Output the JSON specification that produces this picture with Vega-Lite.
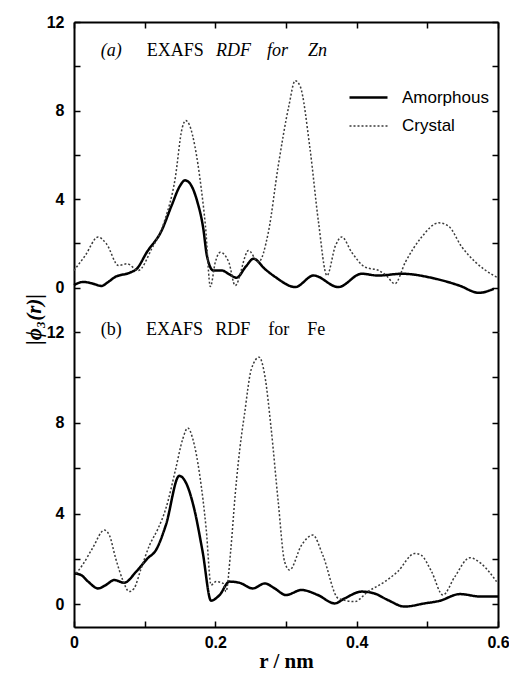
{
  "$schema": "https://vega.github.io/schema/vega-lite/v6.json",
  "padding": {"left": 23, "top": 14, "right": 2, "bottom": 2},
  "spacing": 0,
  "bounds": "flush",
  "config": {
    "view": {"stroke": null},
    "axis": {
      "grid": false,
      "domainColor": "black",
      "domainWidth": 2,
      "tickColor": "black",
      "tickWidth": 1.5,
      "tickSize": -6,
      "labelFont": "Liberation Sans",
      "labelFontSize": 16,
      "labelFontWeight": "bold",
      "labelColor": "black",
      "labelFlush": false,
      "labelOverlap": false,
      "titleColor": "black"
    }
  },
  "datasets": {
    "curves": [
      {"p": "a", "s": "Amorphous", "r": 0, "v": 0.12},
      {"p": "a", "s": "Amorphous", "r": 0.013, "v": 0.26},
      {"p": "a", "s": "Amorphous", "r": 0.025, "v": 0.2},
      {"p": "a", "s": "Amorphous", "r": 0.039, "v": 0.08},
      {"p": "a", "s": "Amorphous", "r": 0.048, "v": 0.25},
      {"p": "a", "s": "Amorphous", "r": 0.058, "v": 0.48},
      {"p": "a", "s": "Amorphous", "r": 0.079, "v": 0.68},
      {"p": "a", "s": "Amorphous", "r": 0.089, "v": 0.86},
      {"p": "a", "s": "Amorphous", "r": 0.103, "v": 1.6},
      {"p": "a", "s": "Amorphous", "r": 0.124, "v": 2.58},
      {"p": "a", "s": "Amorphous", "r": 0.138, "v": 3.7},
      {"p": "a", "s": "Amorphous", "r": 0.15, "v": 4.6},
      {"p": "a", "s": "Amorphous", "r": 0.157, "v": 4.85},
      {"p": "a", "s": "Amorphous", "r": 0.163, "v": 4.75},
      {"p": "a", "s": "Amorphous", "r": 0.174, "v": 3.94},
      {"p": "a", "s": "Amorphous", "r": 0.183, "v": 2.66},
      {"p": "a", "s": "Amorphous", "r": 0.188, "v": 1.46},
      {"p": "a", "s": "Amorphous", "r": 0.197, "v": 0.78},
      {"p": "a", "s": "Amorphous", "r": 0.209, "v": 0.78},
      {"p": "a", "s": "Amorphous", "r": 0.22, "v": 0.6},
      {"p": "a", "s": "Amorphous", "r": 0.23, "v": 0.45},
      {"p": "a", "s": "Amorphous", "r": 0.243, "v": 0.95},
      {"p": "a", "s": "Amorphous", "r": 0.254, "v": 1.31},
      {"p": "a", "s": "Amorphous", "r": 0.27, "v": 0.85},
      {"p": "a", "s": "Amorphous", "r": 0.285, "v": 0.48},
      {"p": "a", "s": "Amorphous", "r": 0.313, "v": 0.03},
      {"p": "a", "s": "Amorphous", "r": 0.339, "v": 0.55},
      {"p": "a", "s": "Amorphous", "r": 0.374, "v": 0.03},
      {"p": "a", "s": "Amorphous", "r": 0.407, "v": 0.63},
      {"p": "a", "s": "Amorphous", "r": 0.43, "v": 0.55},
      {"p": "a", "s": "Amorphous", "r": 0.464, "v": 0.63},
      {"p": "a", "s": "Amorphous", "r": 0.511, "v": 0.41},
      {"p": "a", "s": "Amorphous", "r": 0.545, "v": 0.1},
      {"p": "a", "s": "Amorphous", "r": 0.573, "v": -0.23},
      {"p": "a", "s": "Amorphous", "r": 0.594, "v": -0.05},
      {"p": "a", "s": "Crystal", "r": 0, "v": 0.78},
      {"p": "a", "s": "Crystal", "r": 0.016, "v": 1.46},
      {"p": "a", "s": "Crystal", "r": 0.034, "v": 2.29},
      {"p": "a", "s": "Crystal", "r": 0.046, "v": 1.98},
      {"p": "a", "s": "Crystal", "r": 0.063, "v": 1.0},
      {"p": "a", "s": "Crystal", "r": 0.075, "v": 1.08},
      {"p": "a", "s": "Crystal", "r": 0.091, "v": 0.78},
      {"p": "a", "s": "Crystal", "r": 0.11, "v": 1.76},
      {"p": "a", "s": "Crystal", "r": 0.129, "v": 3.1},
      {"p": "a", "s": "Crystal", "r": 0.143, "v": 4.9},
      {"p": "a", "s": "Crystal", "r": 0.153, "v": 7.2},
      {"p": "a", "s": "Crystal", "r": 0.158, "v": 7.55},
      {"p": "a", "s": "Crystal", "r": 0.164, "v": 7.3},
      {"p": "a", "s": "Crystal", "r": 0.171, "v": 6.4},
      {"p": "a", "s": "Crystal", "r": 0.18, "v": 4.5},
      {"p": "a", "s": "Crystal", "r": 0.186, "v": 2.8},
      {"p": "a", "s": "Crystal", "r": 0.193, "v": 0.05},
      {"p": "a", "s": "Crystal", "r": 0.2, "v": 1.16},
      {"p": "a", "s": "Crystal", "r": 0.207, "v": 1.6},
      {"p": "a", "s": "Crystal", "r": 0.219, "v": 1.16},
      {"p": "a", "s": "Crystal", "r": 0.228, "v": 0.1},
      {"p": "a", "s": "Crystal", "r": 0.247, "v": 1.68},
      {"p": "a", "s": "Crystal", "r": 0.261, "v": 1.16},
      {"p": "a", "s": "Crystal", "r": 0.275, "v": 2.5},
      {"p": "a", "s": "Crystal", "r": 0.289, "v": 5.5},
      {"p": "a", "s": "Crystal", "r": 0.304, "v": 8.2},
      {"p": "a", "s": "Crystal", "r": 0.313, "v": 9.35},
      {"p": "a", "s": "Crystal", "r": 0.32, "v": 9.1},
      {"p": "a", "s": "Crystal", "r": 0.334, "v": 6.27},
      {"p": "a", "s": "Crystal", "r": 0.346, "v": 2.96},
      {"p": "a", "s": "Crystal", "r": 0.358, "v": 0.55},
      {"p": "a", "s": "Crystal", "r": 0.37, "v": 1.9},
      {"p": "a", "s": "Crystal", "r": 0.379, "v": 2.29},
      {"p": "a", "s": "Crystal", "r": 0.393, "v": 1.6},
      {"p": "a", "s": "Crystal", "r": 0.412, "v": 0.93},
      {"p": "a", "s": "Crystal", "r": 0.431, "v": 0.78},
      {"p": "a", "s": "Crystal", "r": 0.442, "v": 0.55},
      {"p": "a", "s": "Crystal", "r": 0.454, "v": 0.18},
      {"p": "a", "s": "Crystal", "r": 0.469, "v": 1.16},
      {"p": "a", "s": "Crystal", "r": 0.492, "v": 2.29},
      {"p": "a", "s": "Crystal", "r": 0.516, "v": 2.93},
      {"p": "a", "s": "Crystal", "r": 0.53, "v": 2.78},
      {"p": "a", "s": "Crystal", "r": 0.549, "v": 1.83},
      {"p": "a", "s": "Crystal", "r": 0.568, "v": 1.16},
      {"p": "a", "s": "Crystal", "r": 0.594, "v": 0.55},
      {"p": "a", "s": "Crystal", "r": 0.6, "v": 0.45},
      {"p": "b", "s": "Amorphous", "r": 0, "v": 1.36},
      {"p": "b", "s": "Amorphous", "r": 0.01, "v": 1.29},
      {"p": "b", "s": "Amorphous", "r": 0.02, "v": 1.0},
      {"p": "b", "s": "Amorphous", "r": 0.034, "v": 0.7},
      {"p": "b", "s": "Amorphous", "r": 0.045, "v": 0.85},
      {"p": "b", "s": "Amorphous", "r": 0.057, "v": 1.07},
      {"p": "b", "s": "Amorphous", "r": 0.071, "v": 0.95},
      {"p": "b", "s": "Amorphous", "r": 0.088, "v": 1.44},
      {"p": "b", "s": "Amorphous", "r": 0.104, "v": 2.02},
      {"p": "b", "s": "Amorphous", "r": 0.116, "v": 2.39},
      {"p": "b", "s": "Amorphous", "r": 0.13, "v": 3.49},
      {"p": "b", "s": "Amorphous", "r": 0.149, "v": 5.66},
      {"p": "b", "s": "Amorphous", "r": 0.159, "v": 5.32},
      {"p": "b", "s": "Amorphous", "r": 0.17, "v": 4.22},
      {"p": "b", "s": "Amorphous", "r": 0.182, "v": 2.32},
      {"p": "b", "s": "Amorphous", "r": 0.194, "v": 0.16},
      {"p": "b", "s": "Amorphous", "r": 0.206, "v": 0.41},
      {"p": "b", "s": "Amorphous", "r": 0.22, "v": 1.0},
      {"p": "b", "s": "Amorphous", "r": 0.234, "v": 0.95},
      {"p": "b", "s": "Amorphous", "r": 0.253, "v": 0.7},
      {"p": "b", "s": "Amorphous", "r": 0.27, "v": 0.92},
      {"p": "b", "s": "Amorphous", "r": 0.284, "v": 0.7},
      {"p": "b", "s": "Amorphous", "r": 0.3, "v": 0.41},
      {"p": "b", "s": "Amorphous", "r": 0.322, "v": 0.63},
      {"p": "b", "s": "Amorphous", "r": 0.345, "v": 0.41},
      {"p": "b", "s": "Amorphous", "r": 0.369, "v": 0.04},
      {"p": "b", "s": "Amorphous", "r": 0.383, "v": 0.26},
      {"p": "b", "s": "Amorphous", "r": 0.407, "v": 0.56},
      {"p": "b", "s": "Amorphous", "r": 0.425, "v": 0.48},
      {"p": "b", "s": "Amorphous", "r": 0.444, "v": 0.19},
      {"p": "b", "s": "Amorphous", "r": 0.468, "v": -0.1},
      {"p": "b", "s": "Amorphous", "r": 0.496, "v": 0.04},
      {"p": "b", "s": "Amorphous", "r": 0.517, "v": 0.15},
      {"p": "b", "s": "Amorphous", "r": 0.546, "v": 0.45},
      {"p": "b", "s": "Amorphous", "r": 0.576, "v": 0.34},
      {"p": "b", "s": "Amorphous", "r": 0.6, "v": 0.34},
      {"p": "b", "s": "Crystal", "r": 0.003, "v": 1.36},
      {"p": "b", "s": "Crystal", "r": 0.012, "v": 1.73},
      {"p": "b", "s": "Crystal", "r": 0.026, "v": 2.46},
      {"p": "b", "s": "Crystal", "r": 0.043, "v": 3.27},
      {"p": "b", "s": "Crystal", "r": 0.05, "v": 3.05},
      {"p": "b", "s": "Crystal", "r": 0.059, "v": 2.02},
      {"p": "b", "s": "Crystal", "r": 0.069, "v": 1.07},
      {"p": "b", "s": "Crystal", "r": 0.078, "v": 0.56},
      {"p": "b", "s": "Crystal", "r": 0.085, "v": 0.7},
      {"p": "b", "s": "Crystal", "r": 0.095, "v": 1.58},
      {"p": "b", "s": "Crystal", "r": 0.107, "v": 2.61},
      {"p": "b", "s": "Crystal", "r": 0.119, "v": 3.34},
      {"p": "b", "s": "Crystal", "r": 0.13, "v": 4.22},
      {"p": "b", "s": "Crystal", "r": 0.144, "v": 5.98},
      {"p": "b", "s": "Crystal", "r": 0.154, "v": 7.3},
      {"p": "b", "s": "Crystal", "r": 0.161, "v": 7.77},
      {"p": "b", "s": "Crystal", "r": 0.168, "v": 7.3},
      {"p": "b", "s": "Crystal", "r": 0.178, "v": 5.68},
      {"p": "b", "s": "Crystal", "r": 0.187, "v": 3.34},
      {"p": "b", "s": "Crystal", "r": 0.194, "v": 0.85},
      {"p": "b", "s": "Crystal", "r": 0.201, "v": 1.0},
      {"p": "b", "s": "Crystal", "r": 0.211, "v": 0.92},
      {"p": "b", "s": "Crystal", "r": 0.215, "v": 0.56},
      {"p": "b", "s": "Crystal", "r": 0.222, "v": 2.46},
      {"p": "b", "s": "Crystal", "r": 0.228, "v": 4.8},
      {"p": "b", "s": "Crystal", "r": 0.237, "v": 7.44},
      {"p": "b", "s": "Crystal", "r": 0.241, "v": 8.32},
      {"p": "b", "s": "Crystal", "r": 0.251, "v": 10.37},
      {"p": "b", "s": "Crystal", "r": 0.262, "v": 10.89},
      {"p": "b", "s": "Crystal", "r": 0.27, "v": 10.08},
      {"p": "b", "s": "Crystal", "r": 0.279, "v": 7.74},
      {"p": "b", "s": "Crystal", "r": 0.289, "v": 4.51},
      {"p": "b", "s": "Crystal", "r": 0.298, "v": 1.88},
      {"p": "b", "s": "Crystal", "r": 0.305, "v": 1.51},
      {"p": "b", "s": "Crystal", "r": 0.322, "v": 2.61},
      {"p": "b", "s": "Crystal", "r": 0.338, "v": 3.05},
      {"p": "b", "s": "Crystal", "r": 0.352, "v": 2.17},
      {"p": "b", "s": "Crystal", "r": 0.374, "v": 0.26},
      {"p": "b", "s": "Crystal", "r": 0.397, "v": 0.12},
      {"p": "b", "s": "Crystal", "r": 0.416, "v": 0.56},
      {"p": "b", "s": "Crystal", "r": 0.44, "v": 1.0},
      {"p": "b", "s": "Crystal", "r": 0.458, "v": 1.44},
      {"p": "b", "s": "Crystal", "r": 0.482, "v": 2.24},
      {"p": "b", "s": "Crystal", "r": 0.491, "v": 2.17},
      {"p": "b", "s": "Crystal", "r": 0.506, "v": 1.44},
      {"p": "b", "s": "Crystal", "r": 0.522, "v": 0.41},
      {"p": "b", "s": "Crystal", "r": 0.539, "v": 1.22},
      {"p": "b", "s": "Crystal", "r": 0.56, "v": 2.05},
      {"p": "b", "s": "Crystal", "r": 0.576, "v": 1.8},
      {"p": "b", "s": "Crystal", "r": 0.598, "v": 1.0}
    ],
    "texts": [
      {"p": "a", "r": 0.038, "v": 10.69, "t": "(a)", "it": 1},
      {"p": "a", "r": 0.103, "v": 10.69, "t": "EXAFS", "it": 0},
      {"p": "a", "r": 0.201, "v": 10.69, "t": "RDF", "it": 1},
      {"p": "a", "r": 0.273, "v": 10.69, "t": "for", "it": 1},
      {"p": "a", "r": 0.331, "v": 10.69, "t": "Zn", "it": 1},
      {"p": "b", "r": 0.038, "v": 12.09, "t": "(b)", "it": 0},
      {"p": "b", "r": 0.102, "v": 12.09, "t": "EXAFS", "it": 0},
      {"p": "b", "r": 0.2, "v": 12.09, "t": "RDF", "it": 0},
      {"p": "b", "r": 0.275, "v": 12.09, "t": "for", "it": 0},
      {"p": "b", "r": 0.33, "v": 12.09, "t": "Fe", "it": 0}
    ]
  },
  "resolve": {
    "scale": {"color": "independent", "strokeDash": "independent", "strokeWidth": "independent"},
    "legend": {"color": "independent", "strokeDash": "independent", "strokeWidth": "independent"}
  },
  "vconcat": [
    {
      "width": 424,
      "height": 310,
      "resolve": {"axis": {"x": "independent", "y": "independent"}},
      "layer": [
        {
          "data": {"name": "curves"},
          "transform": [{"filter": "datum.p === 'a'"}],
          "mark": {"type": "line", "interpolate": "monotone"},
          "encoding": {
            "x": {"field": "r", "type": "quantitative", "scale": {"domain": [0, 0.6], "nice": false, "zero": false},
              "axis": {"orient": "top", "labels": false, "title": null, "values": [0, 0.1, 0.2, 0.3, 0.4, 0.5, 0.6]}},
            "y": {"field": "v", "type": "quantitative", "scale": {"domain": [-2, 12], "nice": false, "zero": false},
              "axis": {"orient": "left", "values": [0, 2, 4, 6, 8, 10, 12], "labelExpr": "datum.value % 4 === 0 ? datum.label : ''", "labelPadding": 16,
                "title": "|ϕ₃(r)|", "titleX": -40, "titleY": 297, "titleAngle": -90, "titleAlign": "center", "titleBaseline": "middle",
                "titleFont": "Liberation Serif", "titleFontSize": 21, "titleFontWeight": "bold", "titleFontStyle": "italic"}},
            "color": {"field": "s", "type": "nominal", "scale": {"domain": ["Amorphous", "Crystal"], "range": ["black", "#3a3a3a"]},
              "legend": {"title": null, "orient": "none", "legendX": 274, "legendY": 55, "padding": 0, "symbolType": "stroke", "symbolSize": 1444, "labelFont": "Liberation Sans", "labelFontSize": 17, "labelColor": "black", "labelOffset": 13, "rowPadding": -9}},
            "strokeDash": {"field": "s", "type": "nominal", "scale": {"domain": ["Amorphous", "Crystal"], "range": [[1, 0], [2, 2]]},
              "legend": {"title": null, "orient": "none", "legendX": 274, "legendY": 55, "padding": 0, "symbolType": "stroke", "symbolSize": 1444, "labelFont": "Liberation Sans", "labelFontSize": 17, "labelColor": "black", "labelOffset": 13, "rowPadding": -9}},
            "strokeWidth": {"field": "s", "type": "nominal", "scale": {"type": "ordinal", "domain": ["Amorphous", "Crystal"], "range": [2.5, 1.5]},
              "legend": {"title": null, "orient": "none", "legendX": 274, "legendY": 55, "padding": 0, "symbolType": "stroke", "symbolSize": 1444, "labelFont": "Liberation Sans", "labelFontSize": 17, "labelColor": "black", "labelOffset": 13, "rowPadding": -9}}
          }
        },
        {
          "data": {"name": "texts"},
          "transform": [{"filter": "datum.p === 'a' && datum.it === 1"}],
          "mark": {"type": "text", "align": "left", "baseline": "middle", "font": "Liberation Serif", "fontSize": 18, "fontStyle": "italic", "color": "black"},
          "encoding": {
            "x": {"field": "r", "type": "quantitative", "axis": null},
            "y": {"field": "v", "type": "quantitative", "axis": {"orient": "right", "labels": false, "title": null, "values": [0, 2, 4, 6, 8, 10, 12]}},
            "text": {"field": "t"}
          }
        },
        {
          "data": {"name": "texts"},
          "transform": [{"filter": "datum.p === 'a' && datum.it === 0"}],
          "mark": {"type": "text", "align": "left", "baseline": "middle", "font": "Liberation Serif", "fontSize": 18, "color": "black"},
          "encoding": {
            "x": {"field": "r", "type": "quantitative", "axis": null},
            "y": {"field": "v", "type": "quantitative", "axis": null},
            "text": {"field": "t"}
          }
        }
      ]
    },
    {
      "width": 424,
      "height": 295,
      "resolve": {"axis": {"x": "independent", "y": "independent"}},
      "layer": [
        {
          "data": {"name": "curves"},
          "transform": [{"filter": "datum.p === 'b'"}],
          "mark": {"type": "line", "interpolate": "monotone"},
          "encoding": {
            "x": {"field": "r", "type": "quantitative", "scale": {"domain": [0, 0.6], "nice": false, "zero": false},
              "axis": {"orient": "bottom", "values": [0, 0.1, 0.2, 0.3, 0.4, 0.5, 0.6], "labelPadding": 13,
                "labelExpr": "datum.value === 0 ? '0' : (round(datum.value * 10) % 2 === 0 ? format(datum.value, '.1f') : '')",
                "title": "r  /  nm", "titleFont": "Liberation Serif", "titleFontSize": 21, "titleFontWeight": "bold", "titlePadding": 0}},
            "y": {"field": "v", "type": "quantitative", "scale": {"domain": [-1, 12], "nice": false, "zero": false},
              "axis": {"orient": "left", "values": [0, 2, 4, 6, 8, 10, 12], "labelExpr": "datum.value % 4 === 0 ? datum.label : ''", "labelPadding": 16, "title": null}},
            "color": {"field": "s", "type": "nominal", "scale": {"domain": ["Amorphous", "Crystal"], "range": ["black", "#3a3a3a"]}, "legend": null},
            "strokeDash": {"field": "s", "type": "nominal", "scale": {"domain": ["Amorphous", "Crystal"], "range": [[1, 0], [2, 2]]}, "legend": null},
            "strokeWidth": {"field": "s", "type": "nominal", "scale": {"type": "ordinal", "domain": ["Amorphous", "Crystal"], "range": [2.5, 1.5]}, "legend": null}
          }
        },
        {
          "data": {"name": "texts"},
          "transform": [{"filter": "datum.p === 'b'"}],
          "mark": {"type": "text", "align": "left", "baseline": "middle", "font": "Liberation Serif", "fontSize": 18, "color": "black"},
          "encoding": {
            "x": {"field": "r", "type": "quantitative", "axis": null},
            "y": {"field": "v", "type": "quantitative", "axis": {"orient": "right", "labels": false, "title": null, "values": [0, 2, 4, 6, 8, 10, 12]}},
            "text": {"field": "t"}
          }
        }
      ]
    }
  ]
}
